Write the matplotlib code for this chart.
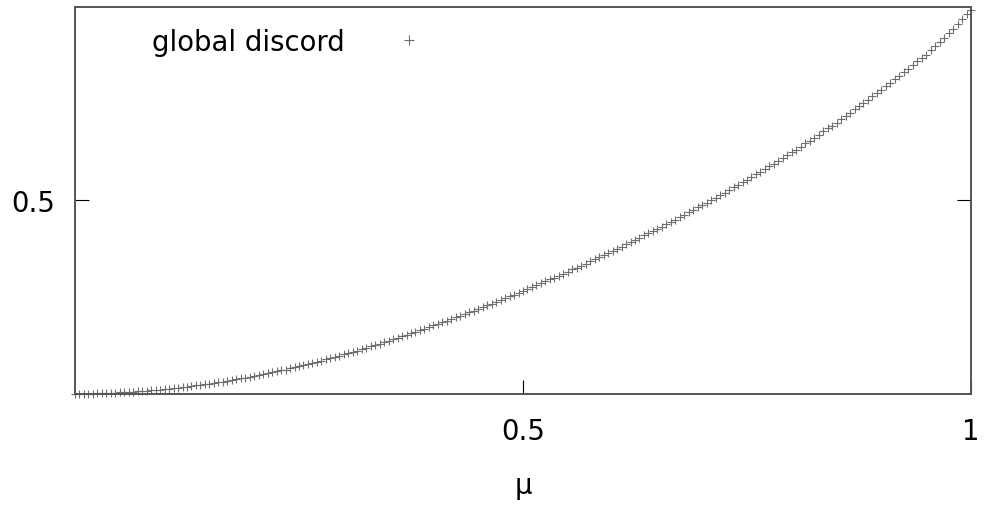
import numpy as np
import matplotlib
matplotlib.use("Agg")
import matplotlib.pyplot as plt

# global discord sampled on a regular grid of mu
mu = np.linspace(0.0, 1.0, 201)
discord = [
    0.000, 0.000, 0.000, 0.000, 0.000, 0.001, 0.001, 0.001, 0.002, 0.002,
    0.003, 0.003, 0.004, 0.005, 0.006, 0.006, 0.007, 0.008, 0.009, 0.010,
    0.011, 0.012, 0.013, 0.015, 0.016, 0.018, 0.019, 0.021, 0.022, 0.024,
    0.025, 0.027, 0.029, 0.031, 0.033, 0.035, 0.037, 0.039, 0.041, 0.043,
    0.045, 0.047, 0.050, 0.052, 0.055, 0.057, 0.060, 0.062, 0.065, 0.068,
    0.070, 0.073, 0.076, 0.079, 0.082, 0.085, 0.088, 0.091, 0.094, 0.098,
    0.101, 0.104, 0.108, 0.111, 0.115, 0.118, 0.122, 0.125, 0.129, 0.133,
    0.137, 0.140, 0.144, 0.148, 0.152, 0.156, 0.160, 0.164, 0.168, 0.172,
    0.176, 0.180, 0.184, 0.188, 0.192, 0.197, 0.201, 0.205, 0.210, 0.214,
    0.218, 0.223, 0.228, 0.232, 0.237, 0.242, 0.246, 0.251, 0.256, 0.261,
    0.266, 0.271, 0.275, 0.280, 0.285, 0.290, 0.295, 0.300, 0.305, 0.310,
    0.315, 0.321, 0.326, 0.331, 0.336, 0.342, 0.347, 0.352, 0.358, 0.363,
    0.369, 0.374, 0.380, 0.386, 0.391, 0.397, 0.403, 0.409, 0.415, 0.420,
    0.426, 0.432, 0.438, 0.444, 0.450, 0.457, 0.463, 0.469, 0.475, 0.482,
    0.488, 0.494, 0.501, 0.507, 0.514, 0.520, 0.527, 0.533, 0.540, 0.547,
    0.553, 0.560, 0.567, 0.574, 0.581, 0.588, 0.595, 0.602, 0.609, 0.617,
    0.624, 0.631, 0.639, 0.647, 0.654, 0.662, 0.670, 0.678, 0.686, 0.693,
    0.701, 0.710, 0.718, 0.726, 0.735, 0.743, 0.752, 0.760, 0.769, 0.777,
    0.786, 0.795, 0.804, 0.813, 0.822, 0.831, 0.840, 0.849, 0.859, 0.868,
    0.877, 0.888, 0.899, 0.910, 0.921, 0.932, 0.944, 0.956, 0.968, 0.981,
    0.993,
]

x_ticks = [0.5, 1.0]
x_ticklabels = ["0.5", "1"]
y_ticks = [0.5]
y_ticklabels = ["0.5"]

FS = 19.8
plt.rcParams["font.family"] = ["DejaVu Sans"]

fig = plt.figure(figsize=(9.84, 5.06), dpi=100)
ax = fig.add_axes([75 / 984, 1 - 394.5 / 506, 896 / 984, 386.5 / 506])

ax.plot(mu, discord, linestyle="none", marker="+", markersize=6,
        markeredgewidth=0.8, color="#6e6e6e", label="global discord",
        clip_on=False)

ax.set_xlim(0, 1)
ax.set_ylim(0, 1)
ax.set_xticks(x_ticks)
ax.set_xticklabels(x_ticklabels)
ax.set_yticks(y_ticks)
ax.set_yticklabels(y_ticklabels)

ax.tick_params(direction="in", length=10, width=0.8, color="black",
               labelsize=FS, top=False, right=True)
ax.tick_params(axis="x", pad=17)
ax.tick_params(axis="y", pad=14)

for spine in ax.spines.values():
    spine.set_color("#555555")
    spine.set_linewidth(1.4)

ax.set_xlabel("μ", fontsize=FS, labelpad=19)

ax.legend(loc="center left", bbox_to_anchor=(151.7 / 984, 1 - 43 / 506),
          bbox_transform=fig.transFigure, frameon=False, fontsize=FS,
          markerfirst=False, handlelength=2.0, handletextpad=1.33,
          borderpad=0, borderaxespad=0, markerscale=1.15)

fig.savefig("out.png", dpi=100)
